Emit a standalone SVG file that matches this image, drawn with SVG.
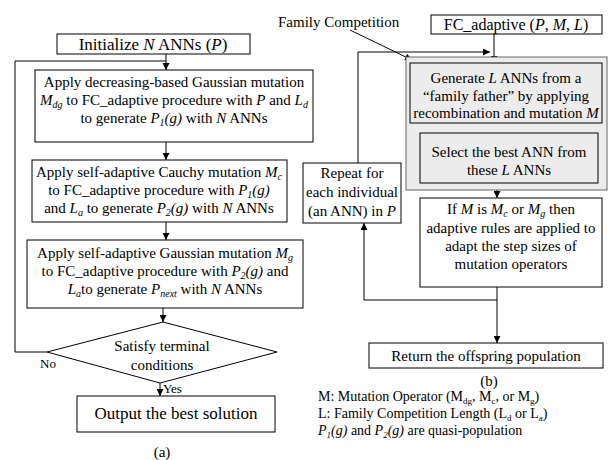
<svg xmlns="http://www.w3.org/2000/svg" width="610" height="460" viewBox="0 0 610 460">
<defs>
<marker id="ah" viewBox="0 0 10 10" refX="10" refY="5" markerWidth="7" markerHeight="7" markerUnits="userSpaceOnUse" orient="auto">
<path d="M0,0 L10,5 L0,10 z" fill="#000"/>
</marker>
<style>
text{font-family:"Liberation Serif","Times New Roman",serif;fill:#000}
.t15{font-size:15px}
.t16{font-size:16px}
.t17{font-size:17px}
.t14{font-size:14px}
.t13{font-size:13px}
.c{text-anchor:middle}
.i{font-style:italic}
.box{fill:#fff;stroke:#000;stroke-width:1}
.gbox{fill:#ececec;stroke:#000;stroke-width:1}
.shade{fill:#ececec;stroke:#666;stroke-width:1}
.ln{fill:none;stroke:#000;stroke-width:1}
.ar{fill:none;stroke:#000;stroke-width:1;marker-end:url(#ah)}
</style>
</defs>
<rect width="610" height="460" fill="#fff"/>

<g id="connectors">
<line class="ar" x1="166" y1="54" x2="166" y2="70"/>
<polyline class="ln" points="47,352 15,352 15,61 166,61"/>
<line class="ar" x1="166" y1="142" x2="166" y2="160"/>
<line class="ar" x1="166" y1="222" x2="166" y2="240"/>
<line class="ar" x1="163" y1="308" x2="163" y2="322"/>
<line class="ar" x1="160" y1="383" x2="160" y2="396"/>
<line class="ar" x1="350" y1="30" x2="412" y2="60"/>
<line class="ar" x1="494" y1="34" x2="494" y2="63"/>
<polyline class="ar" points="358,163 358,52 490,52"/>
<line class="ar" x1="497" y1="123" x2="497" y2="133"/>
<line class="ar" x1="497" y1="183" x2="497" y2="198"/>
<line class="ar" x1="497" y1="287" x2="497" y2="343"/>
<polyline class="ar" points="497,300 364,300 364,223"/>
</g>

<g id="init">
<rect class="box" x="57" y="34" width="193" height="20"/>
<text class="t17 c" x="153" y="50">Initialize <tspan class="i">N</tspan> ANNs (<tspan class="i">P</tspan>)</text>
</g>

<g id="box1">
<rect class="box" x="35" y="70" width="278" height="72"/>
<text class="t15 c" x="174" y="87">Apply decreasing-based Gaussian mutation</text>
<text class="t15 c" x="174" y="105"><tspan class="i">M<tspan dy="3" font-size="10">dg</tspan></tspan><tspan dy="-3"> to FC_adaptive procedure with </tspan><tspan class="i">P</tspan> and <tspan class="i">L<tspan dy="3" font-size="10">d</tspan></tspan></text>
<text class="t15 c" x="174" y="123">to generate <tspan class="i">P<tspan dy="3" font-size="10">1</tspan><tspan dy="-3">(g)</tspan></tspan> with <tspan class="i">N</tspan> ANNs</text>
</g>

<g id="box2">
<rect class="box" x="32" y="160" width="255" height="62"/>
<text class="t15 c" x="159" y="177">Apply self-adaptive Cauchy mutation <tspan class="i">M<tspan dy="3" font-size="10">c</tspan></tspan></text>
<text class="t15 c" x="159" y="195">to FC_adaptive procedure with <tspan class="i">P<tspan dy="3" font-size="10">1</tspan><tspan dy="-3">(g)</tspan></tspan></text>
<text class="t15 c" x="159" y="213">and <tspan class="i">L<tspan dy="3" font-size="10">a</tspan></tspan><tspan dy="-3"> to generate </tspan><tspan class="i">P<tspan dy="3" font-size="10">2</tspan><tspan dy="-3">(g)</tspan></tspan> with <tspan class="i">N</tspan> ANNs</text>
</g>

<g id="box3">
<rect class="box" x="27" y="240" width="276" height="68"/>
<text class="t15 c" x="165" y="258">Apply self-adaptive Gaussian mutation <tspan class="i">M<tspan dy="3" font-size="10">g</tspan></tspan></text>
<text class="t15 c" x="165" y="276">to FC_adaptive procedure with <tspan class="i">P<tspan dy="3" font-size="10">2</tspan><tspan dy="-3">(g)</tspan></tspan>  and</text>
<text class="t15 c" x="165" y="294"><tspan class="i">L<tspan dy="3" font-size="10">a</tspan></tspan><tspan dy="-3">to generate </tspan><tspan class="i">P<tspan dy="3" font-size="10">next</tspan></tspan><tspan dy="-3"> with </tspan><tspan class="i">N</tspan> ANNs</text>
</g>

<g id="decision">
<polygon class="box" points="163,322 277,352 160,383 47,352"/>
<text class="t15 c" x="162" y="351">Satisfy terminal</text>
<text class="t15 c" x="162" y="370">conditions</text>
<text class="t13" x="40" y="368">No</text>
<text class="t13" x="163" y="393">Yes</text>
</g>

<g id="output">
<rect class="box" x="77" y="396" width="198" height="36"/>
<text class="t17 c" x="176" y="419">Output the best solution</text>
</g>
<text class="t15 c" x="162" y="457">(a)</text>

<g id="family-label">
<text class="t15" x="278" y="27">Family Competition</text>
</g>

<g id="fc">
<rect class="box" x="431" y="15" width="171" height="19"/>
<text class="t16 c" x="516" y="30">FC_adaptive (<tspan class="i">P</tspan>, <tspan class="i">M</tspan>,  <tspan class="i">L</tspan>)</text>
</g>

<g id="family-block">
<rect class="shade" x="406" y="57" width="201" height="133"/>
</g>

<g id="generate">
<rect class="gbox" x="410" y="63" width="192" height="60"/>
<text class="t15 c" x="506" y="83">Generate <tspan class="i">L</tspan> ANNs from a</text>
<text class="t15 c" x="506" y="101">“family father” by applying</text>
<text class="t15 c" x="506" y="118">recombination and mutation <tspan class="i">M</tspan></text>
</g>

<g id="select">
<rect class="gbox" x="420" y="133" width="178" height="50"/>
<text class="t15 c" x="509" y="157">Select the best ANN from</text>
<text class="t15 c" x="509" y="175">these <tspan class="i">L</tspan> ANNs</text>
</g>

<g id="adapt">
<rect class="box" x="420" y="198" width="182" height="89"/>
<text class="t15 c" x="511" y="214">If <tspan class="i">M</tspan> is <tspan class="i">M<tspan dy="3" font-size="10">c</tspan></tspan><tspan dy="-3"> or </tspan><tspan class="i">M<tspan dy="3" font-size="10">g</tspan></tspan><tspan dy="-3"> then</tspan></text>
<text class="t15 c" x="511" y="233">adaptive rules are applied to</text>
<text class="t15 c" x="511" y="251">adapt the step sizes of</text>
<text class="t15 c" x="511" y="269">mutation operators</text>
</g>

<g id="repeat">
<rect class="box" x="303" y="163" width="98" height="60"/>
<text class="t15 c" x="352" y="178">Repeat for</text>
<text class="t15 c" x="352" y="197">each individual</text>
<text class="t15 c" x="352" y="216">(an ANN) in <tspan class="i">P</tspan></text>
</g>

<g id="return">
<rect class="box" x="369" y="343" width="234" height="25"/>
<text class="t15 c" x="486" y="361">Return the offspring population</text>
</g>
<text class="t15 c" x="489" y="386">(b)</text>

<g id="legend">
<text class="t14" x="318" y="401">M: Mutation Operator (M<tspan dy="3" font-size="9">dg</tspan><tspan dy="-3">, M</tspan><tspan dy="3" font-size="9">c</tspan><tspan dy="-3">, or M</tspan><tspan dy="3" font-size="9">g</tspan><tspan dy="-3">)</tspan></text>
<text class="t14" x="318" y="418">L: Family Competition Length (L<tspan dy="3" font-size="9">d</tspan><tspan dy="-3"> or L</tspan><tspan dy="3" font-size="9">a</tspan><tspan dy="-3">)</tspan></text>
<text class="t14" x="318" y="435"><tspan class="i">P<tspan dy="3" font-size="9">1</tspan><tspan dy="-3">(g)</tspan></tspan> and <tspan class="i">P<tspan dy="3" font-size="9">2</tspan><tspan dy="-3">(g)</tspan></tspan> are quasi-population</text>
</g>
</svg>
